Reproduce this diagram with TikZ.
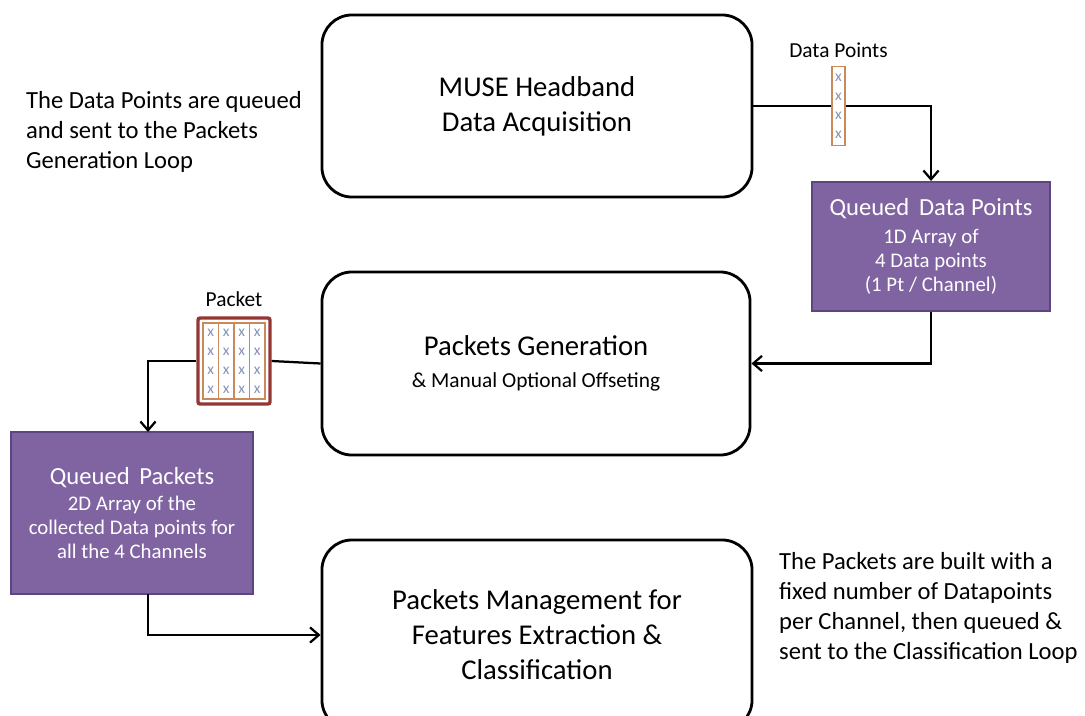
\documentclass[tikz,border=0pt]{standalone}
\usepackage{fontspec}
\setmainfont{Carlito}
\usetikzlibrary{arrows.meta,positioning}

\definecolor{qpurple}{HTML}{8064A2}
\definecolor{qborder}{HTML}{5C4680}
\definecolor{pktred}{HTML}{943634}
\definecolor{colorange}{HTML}{C9895A}
\definecolor{xblue}{HTML}{8593B5}

\begin{document}
\begin{tikzpicture}[x=0.025cm,y=-0.025cm,>={Straight Barb[length=2.2mm,width=3.8mm,line width=1.6pt]},line width=1.6pt]
\tikzstyle{stage}=[draw,line width=2pt,rounded corners=0.75cm,minimum width=10.75cm,minimum height=4.55cm,align=center,font=\fontsize{20.4}{24.8}\selectfont]
\tikzstyle{queue}=[draw=qborder,fill=qpurple,line width=1.4pt,text=white,align=center,font=\fontsize{14.8}{17}\selectfont]
\tikzstyle{note}=[align=left,anchor=north west,inner sep=0pt,font=\fontsize{17.5}{21.3}\selectfont]
\tikzstyle{col}=[draw=colorange,line width=0.8pt,fill=white,text=xblue,inner sep=0pt,align=center,font=\fontsize{11}{13.5}\selectfont]
\useasboundingbox (0,0) rectangle (1085,716);

% stages
\node[stage] (muse) at (537,106) {MUSE Headband\\Data Acquisition};
\node[stage,minimum width=10.7cm,minimum height=4.575cm] (pg) at (536,363.5) {Packets Generation\\[-2pt]{\fontsize{15.2}{16}\selectfont \& Manual Optional Offseting}};
\node[stage,minimum height=4.75cm] (pmg) at (537,635) {Packets Management for\\Features Extraction \&\\Classification};

% queues
\node[queue,minimum width=5.95cm,minimum height=3.225cm] (qdp) at (931,246.5) {{\fontsize{17.5}{20}\selectfont Queued\, Data Points}\\[3pt]1D Array of\\4 Data points\\(1 Pt / Channel)};
\node[queue,minimum width=6.05cm,minimum height=4.05cm] (qp) at (132,513) {{\fontsize{17.5}{20}\selectfont Queued\, Packets}\\[2pt]2D Array of the\\collected Data points for\\all the 4 Channels};

% data point column and packet
\node[col,minimum width=0.325cm,minimum height=1.975cm] (dp) at (838.5,106) {x\\x\\x\\x};
\node[above=2pt of dp,font=\fontsize{15.2}{17}\selectfont] (dplabel) {Data Points};
\node[draw=pktred,line width=2.4pt,rounded corners=1.5pt,minimum width=1.8cm,minimum height=2.15cm] (pkt) at (234,361) {};
\node[col,minimum width=0.3875cm,minimum height=1.9cm] (c1) at (210.75,361) {x\\x\\x\\x};
\node[col,minimum width=0.3875cm,minimum height=1.9cm] (c2) at (226.25,361) {x\\x\\x\\x};
\node[col,minimum width=0.3875cm,minimum height=1.9cm] (c3) at (241.75,361) {x\\x\\x\\x};
\node[col,minimum width=0.3875cm,minimum height=1.9cm] (c4) at (257.25,361) {x\\x\\x\\x};
\node[above=3pt of pkt,font=\fontsize{15.2}{17}\selectfont] (pktlabel) {Packet};

% notes
\node[note] (noteleft) at (25,90) {The Data Points are queued\\and sent to the Packets\\Generation Loop};
\node[note] (noteright) at (778,551) {The Packets are built with a\\fixed number of Datapoints\\per Channel, then queued \&\\sent to the Classification Loop};

% flow
\coordinate (qpin) at (148,432);
\coordinate (qpout) at (148,594);
\draw (muse.east) -- (dp.west);
\draw[->] (dp.east) -| (qdp.north);
\draw[->] (qdp.south) |- (pg.east);
\draw (pg.west) -- (pkt.east);
\draw[->] (pkt.west) -| (qpin);
\draw[->] (qpout) |- (pmg.west);
\end{tikzpicture}
\end{document}
